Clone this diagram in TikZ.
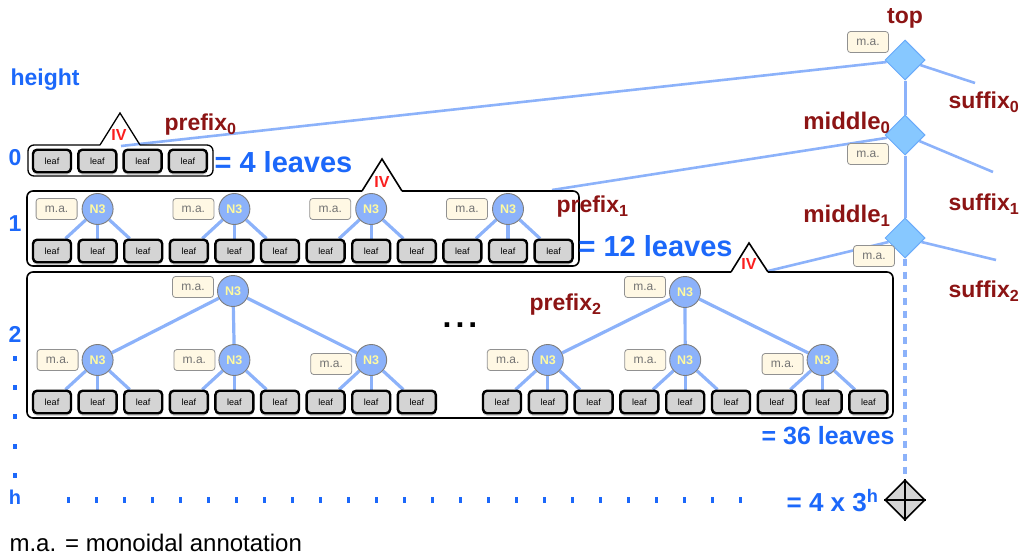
\documentclass[tikz,border=0pt]{standalone}
\usepackage{fontspec}
\setmainfont{Liberation Sans}
\usetikzlibrary{shapes.geometric,shadows}
\definecolor{lvblue}{RGB}{28,104,250}
\definecolor{dred}{RGB}{140,20,20}
\definecolor{ivred}{RGB}{250,30,30}
\definecolor{edgeblue}{RGB}{140,178,250}
\definecolor{nfill}{RGB}{140,178,250}
\definecolor{ngray}{RGB}{125,125,125}
\definecolor{nyellow}{RGB}{255,250,160}
\definecolor{dfill}{RGB}{135,200,255}
\definecolor{ddraw}{RGB}{105,170,250}
\definecolor{mafill}{RGB}{255,248,228}
\definecolor{madraw}{RGB}{145,145,145}
\definecolor{matext}{RGB}{115,115,115}
\definecolor{leaffill}{RGB}{212,212,212}
\pgfdeclarelayer{bg}
\pgfsetlayers{bg,main}
\newcommand\fsz[1]{\fontsize{#1}{#1}\selectfont}
\tikzset{
  leaf/.style={rectangle, rounded corners=4pt, draw=black, line width=2.4pt,
    fill=leaffill, minimum width=38pt, minimum height=22.5pt, inner sep=0pt,
    font=\fsz{9},
    drop shadow={shadow xshift=0pt, shadow yshift=-2.5pt, opacity=0.18, fill=black}},
  nthree/.style={circle, draw=ngray, line width=0.9pt, fill=nfill,
    minimum size=31pt, inner sep=0pt, text=nyellow, font=\bfseries\fsz{12.5}},
  ma/.style={rectangle, rounded corners=3pt, draw=madraw, line width=0.8pt,
    fill=mafill, minimum width=41pt, minimum height=21pt, inner sep=0pt,
    text=matext, font=\fsz{12}},
  diam/.style={diamond, minimum width=40pt, minimum height=40pt, inner sep=0pt,
    fill=dfill, draw=ddraw, line width=1pt},
  botdiam/.style={diamond, minimum width=40pt, minimum height=40pt, inner sep=0pt,
    fill=leaffill, draw=black, line width=1.6pt},
  edge/.style={draw=edgeblue, line width=3.2pt},
  spine/.style={draw=edgeblue, line width=3pt},
  spinedash/.style={draw=edgeblue, line width=4pt, dash pattern=on 7pt off 6pt},
  boxline/.style={draw=black, line width=1.6pt, rounded corners=6pt},
  triline/.style={draw=black, line width=1.6pt, line join=miter},
  ivlabel/.style={text=ivred, font=\bfseries\fsz{16}},
  lvlabel/.style={text=lvblue, font=\bfseries\fsz{23}},
  redlabel/.style={text=dred, font=\bfseries\fsz{23}},
  countlabel/.style={text=lvblue, font=\bfseries\fsz{29}},
  bluedot/.style={fill=lvblue, draw=none}
}
\begin{document}
\begin{tikzpicture}[x=1pt,y=-1pt]
\useasboundingbox (0,0) rectangle (1021,558);

% ---------- level 0: four leaves ----------
\draw[boxline, line width=1.3pt] (100,145) -- (28,145) -- (28,176) -- (213,176) -- (213,145) -- (140,145);
\draw[triline, line width=1.3pt] (100,145) -- (120,113) -- (140,145);
\node[ivlabel] (iv0) at (119,135) {IV};
\foreach \i in {1,...,4}
  \node[leaf] (Z\i) at ({52+45.3*(\i-1)},161) {leaf};

% ---------- level 1: four N3 nodes over twelve leaves ----------
\draw[boxline] (362,191) -- (27,191) -- (27,266) -- (579,266) -- (579,191) -- (402,191);
\draw[triline] (362,191) -- (382,159) -- (402,191);
\node[ivlabel] (iv1) at (382,182) {IV};
\foreach \i in {1,...,12}
  \node[leaf] (B\i) at ({52+45.6*(\i-1)},251) {leaf};
\foreach \k in {1,...,4}{
  \pgfmathsetmacro\xc{52+45.6*(3*\k-2)}
  \node[nthree] (A\k) at (\xc,209) {N3};
  \node[ma] (Am\k) at ({\xc-41},209) {m.a.};
}

% ---------- level 2: two trees of depth two ----------
\draw[boxline] (731,272) -- (27,272) -- (27,418) -- (893,418) -- (893,272) -- (768,272);
\draw[triline] (731,272) -- (749,243) -- (768,272);
\node[ivlabel] (iv2) at (749,264) {IV};

% left tree
\foreach \i in {1,...,9}
  \node[leaf] (C\i) at ({52+45.6*(\i-1)},402) {leaf};
\node[nthree] (R) at (233,291) {N3};
\node[ma] (Rm) at (193,287) {m.a.};
\foreach \k/\dy in {1/0,2/0,3/4}{
  \pgfmathsetmacro\xc{52+45.6*(3*\k-2)}
  \node[nthree] (D\k) at (\xc,360) {N3};
  \node[ma] (Dm\k) at ({\xc-40},{360+\dy}) {m.a.};
}

% right tree
\foreach \i in {1,...,9}
  \node[leaf] (E\i) at ({502+45.8*(\i-1)},402) {leaf};
\node[nthree] (S) at (685,292) {N3};
\node[ma] (Sm) at (645,287) {m.a.};
\foreach \k/\dy in {1/0,2/0,3/4}{
  \pgfmathsetmacro\xc{502+45.8*(3*\k-2)}
  \node[nthree] (F\k) at (\xc,360) {N3};
  \node[ma] (Fm\k) at ({\xc-40},{360+\dy}) {m.a.};
}

\node[font=\bfseries\fsz{32}] (ellip) at (460,325) {.\kern4pt.\kern4pt.};

% ---------- spine of the finger tree ----------
\node[diam] (top) at (905,60) {};
\node[diam] (mid0) at (905,135) {};
\node[diam] (mid1) at (905,238) {};
\node[botdiam] (bot) at (905,500) {};
\draw[line width=1.3pt] (bot.north) -- (bot.south) (bot.west) -- (bot.east);

\node[ma] (topm) at (868,42) {m.a.};
\node[ma] (mid0m) at (868,154) {m.a.};
\node[ma] (mid1m) at (874,256) {m.a.};

\coordinate (p0) at (121,146);
\coordinate (p1) at (552,190);
\coordinate (p2) at (768,271);
\coordinate (s0) at (975,83);
\coordinate (s1) at (993,172);
\coordinate (s2) at (996,260);

% ---------- connectors, kept under the nodes ----------
\begin{pgfonlayer}{bg}
  \foreach \k in {1,...,4}
    \foreach \j in {2,1,0}{
      \pgfmathtruncatemacro\m{3*\k-\j}
      \draw[edge] (A\k) -- (B\m);
    }
  \foreach \k in {1,2,3}{
    \draw[edge] (R) -- (D\k);
    \draw[edge] (S) -- (F\k);
    \foreach \j in {2,1,0}{
      \pgfmathtruncatemacro\m{3*\k-\j}
      \draw[edge] (D\k) -- (C\m);
      \draw[edge] (F\k) -- (E\m);
    }
  }
  \draw[spine] (top) -- (mid0) -- (mid1);
  \draw[spine, line width=2.6pt] (top) -- (p0);
  \draw[spine, line width=2.6pt] (mid0) -- (p1);
  \draw[spine, line width=2.6pt] (mid1) -- (p2);
  \draw[spine, line width=2.6pt] (top) -- (s0);
  \draw[spine, line width=2.6pt] (mid0) -- (s1);
  \draw[spine, line width=2.6pt] (mid1) -- (s2);
  \draw[spinedash] (mid1.south) -- (bot.north);
\end{pgfonlayer}

% ---------- labels ----------
\node[redlabel] (ltop) at (905,18) {top};
\node[redlabel, anchor=east, font=\bfseries\fsz{24}] (lmid0) at (894,123) {middle\textsubscript{0}};
\node[redlabel, anchor=east, font=\bfseries\fsz{24}] (lmid1) at (894,216) {middle\textsubscript{1}};
\node[redlabel, anchor=west] (lsuf0) at (945,102) {suffix\textsubscript{0}};
\node[redlabel, anchor=west] (lsuf1) at (945,204) {suffix\textsubscript{1}};
\node[redlabel, anchor=west] (lsuf2) at (945,291) {suffix\textsubscript{2}};
\node[redlabel, anchor=west] (lpre0) at (161,125) {prefix\textsubscript{0}};
\node[redlabel, anchor=west] (lpre1) at (553,207) {prefix\textsubscript{1}};
\node[redlabel, anchor=west] (lpre2) at (526,305) {prefix\textsubscript{2}};

\node[countlabel, anchor=west] (c0) at (211,162) {= 4 leaves};
\node[countlabel, anchor=west] (c1) at (575,246) {= 12 leaves};
\node[countlabel, anchor=east, font=\bfseries\fsz{25}] (c2) at (898,436) {= 36 leaves};
\node[countlabel, anchor=east, font=\bfseries\fsz{26}] (ch) at (882,501) {= 4 x 3\textsuperscript{h}};

\node[lvlabel, anchor=west] (hgt) at (7,80) {height};
\node[lvlabel] (h0) at (15,158) {0};
\node[lvlabel] (h1) at (15,224) {1};
\node[lvlabel] (h2) at (15,334) {2};
\node[lvlabel, font=\bfseries\fsz{20}] (hh) at (15,497) {h};
\foreach \y in {358,387,416,446,475}
  \fill[bluedot] (12.5,{\y-2.5}) rectangle (16.5,{\y+2.5});
\foreach \i in {0,...,24}
  \fill[bluedot] ({68+28*\i-1.5},497) rectangle ({68+28*\i+1.5},503);

\node[anchor=west, font=\fsz{24}] (caption) at (6,543) {m.a. = monoidal annotation};
\end{tikzpicture}
\end{document}
